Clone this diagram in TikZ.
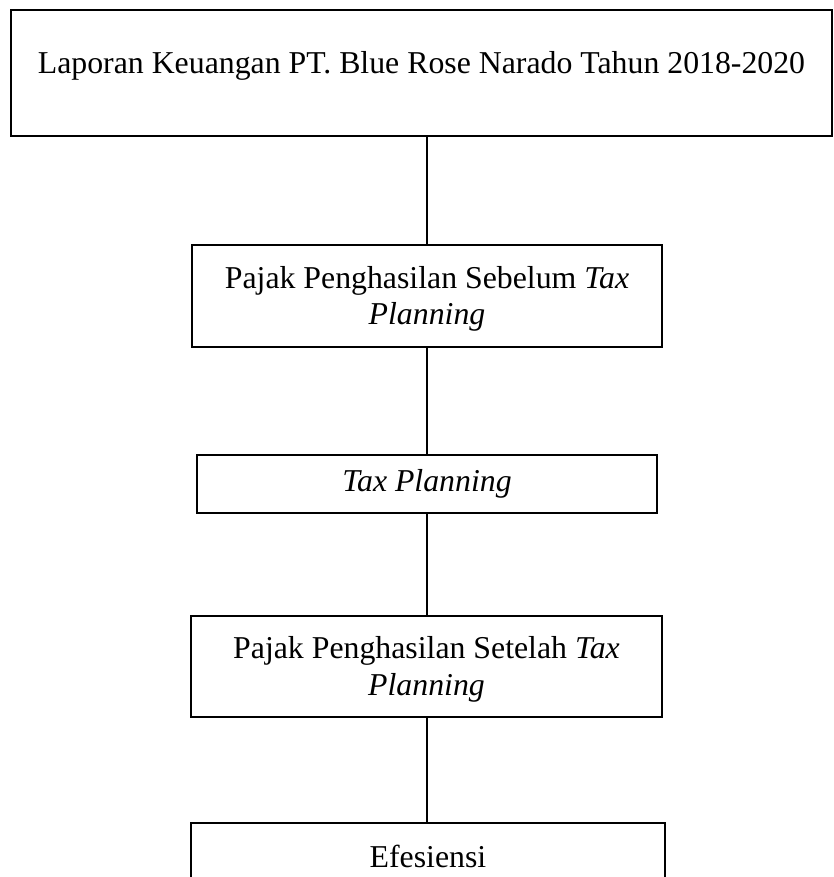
\documentclass[tikz,border=0pt]{standalone}
\usepackage{fontspec}
\setmainfont{Liberation Serif}
\usepackage{tikz}
\tikzset{
    box/.style={rectangle, draw, line width=2.6pt, inner sep=0pt, text centered, align=center, font=\fontsize{31.8pt}{36.4pt}\selectfont},
    link/.style={draw, line width=2.2pt}
}

\begin{document}
\begin{tikzpicture}[x=1pt, y=-1pt]
    \clip (0,0) rectangle (833,877);
    % Boxes
    \node[box, minimum width=821pt, minimum height=126pt, text depth=22pt] (lap) at (421.5,73) {Laporan Keuangan PT. Blue Rose Narado Tahun 2018-2020};
    \node[box, minimum width=470pt, minimum height=102pt, yshift=0pt] (pre) at (427,296) {\rule{0pt}{28pt}Pajak Penghasilan Sebelum \textit{Tax}\\ \textit{Planning}};
    \node[box, minimum width=460pt, minimum height=58pt] (tp) at (427,484) {\textit{Tax Planning}};
    \node[box, minimum width=471pt, minimum height=101pt] (post) at (426.5,666.5) {\rule{0pt}{28pt}Pajak Penghasilan Setelah \textit{Tax}\\ \textit{Planning}};
    \node[box, minimum width=474pt, minimum height=66pt] (efs) at (428,856) {Efesiensi};

    % Connections
    \draw[link] (pre.north) -- (pre.north |- lap.south);
    \draw[link] (pre.south) -- (pre.south |- tp.north);
    \draw[link] (pre.south |- tp.south) -- (pre.south |- post.north);
    \draw[link] (pre.south |- post.south) -- (pre.south |- efs.north);
\end{tikzpicture}
\end{document}
